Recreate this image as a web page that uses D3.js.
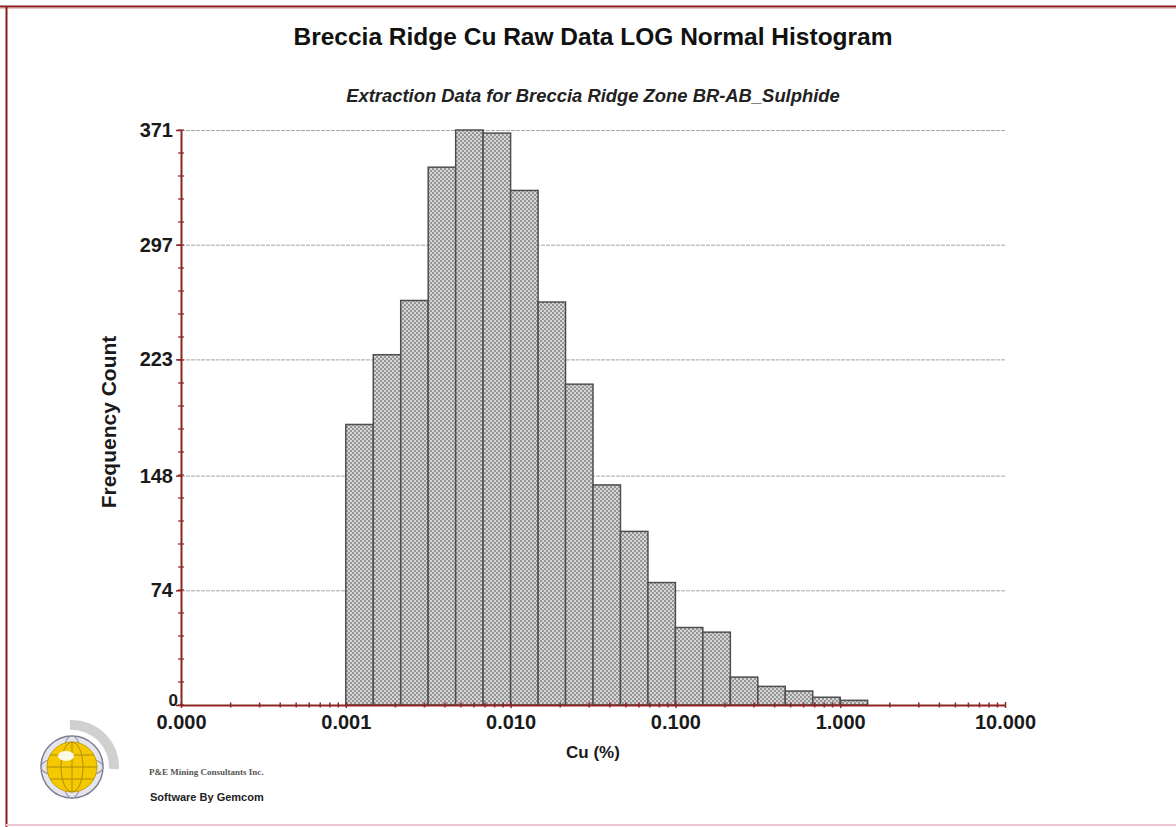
<!DOCTYPE html>
<html>
<head>
<meta charset="utf-8">
<script src="https://cdn.jsdelivr.net/npm/d3@7/dist/d3.min.js"></script>
<style>
  html, body { margin: 0; padding: 0; background: #ffffff; }
  svg { display: block; font-family: "Liberation Sans", Arial, Helvetica, sans-serif; }
</style>
</head>
<body>
<svg id="chart" width="1176" height="827"></svg>
<script>
// Histogram bins on a log Cu (%) axis: lower/upper edges, six bins per decade
const binEdges = [0.001000, 0.001468, 0.002154, 0.003162, 0.004642, 0.006813,
                  0.010000, 0.014678, 0.021544, 0.031623, 0.046416, 0.068129,
                  0.100000, 0.146780, 0.215443, 0.316228, 0.464159, 0.681292,
                  1.000000, 1.467799];
// Frequency count in each bin
const counts = [181, 226, 261, 347, 371, 369, 332, 260, 207, 142,
                112, 79, 50, 47, 18, 12, 9, 5, 3];

// Axis tick values and their printed labels
const xTickValues = [0.0001, 0.001, 0.01, 0.1, 1, 10];
const xTickLabels = ["0.000", "0.001", "0.010", "0.100", "1.000", "10.000"];
const yTickValues = [0, 74, 148, 223, 297, 371];
const yMax = 371;

const titleText = "Breccia Ridge Cu Raw Data LOG Normal Histogram";
const subtitleText = "Extraction Data for Breccia Ridge Zone BR-AB_Sulphide";
const xLabelText = "Cu (%)";
const yLabelText = "Frequency Count";
const companyText = "P&E Mining Consultants Inc.";
const softwareText = "Software By Gemcom";

const W = 1176, H = 827;
const plot = { left: 181, right: 1005, top: 130, bottom: 705 };
const axisColor = "#8e2424";

const svg = d3.select("#chart");

// page frame
svg.append("rect").attr("width", W).attr("height", H).attr("fill", "#ffffff");
svg.append("line").attr("x1", 0).attr("x2", W).attr("y1", 6.5).attr("y2", 6.5)
  .attr("stroke", "#8b1c1c").attr("stroke-width", 2);
svg.append("line").attr("x1", 0).attr("x2", W).attr("y1", 8.5).attr("y2", 8.5)
  .attr("stroke", "#e9c3c3").attr("stroke-width", 1);
svg.append("line").attr("x1", 6.5).attr("x2", 6.5).attr("y1", 6).attr("y2", H)
  .attr("stroke", "#8b1c1c").attr("stroke-width", 2);
svg.append("line").attr("x1", 6).attr("x2", W).attr("y1", 825).attr("y2", 825)
  .attr("stroke", "#efc6d0").attr("stroke-width", 2);

// bar fill texture
const defs = svg.append("defs");
const pat = defs.append("pattern").attr("id", "checker")
  .attr("width", 4).attr("height", 4).attr("patternUnits", "userSpaceOnUse");
pat.append("rect").attr("width", 4).attr("height", 4).attr("fill", "#d6d6d6");
pat.append("rect").attr("width", 2).attr("height", 2).attr("fill", "#969696");
pat.append("rect").attr("x", 2).attr("y", 2).attr("width", 2).attr("height", 2).attr("fill", "#969696");

const x = d3.scaleLog().domain([0.0001, 10]).range([plot.left, plot.right]);
const y = d3.scaleLinear().domain([0, yMax]).range([plot.bottom, plot.top]);

// titles
svg.append("text").attr("x", 593).attr("y", 45).attr("text-anchor", "middle")
  .attr("font-size", 24.5).attr("font-weight", "bold").attr("fill", "#111")
  .text(titleText);
svg.append("text").attr("x", 593).attr("y", 102).attr("text-anchor", "middle")
  .attr("font-size", 18.4).attr("font-weight", "bold").attr("font-style", "italic")
  .attr("fill", "#222").text(subtitleText);

// horizontal grid lines
svg.append("g").selectAll("line").data(yTickValues.filter(d => d > 0)).join("line")
  .attr("x1", plot.left).attr("x2", plot.right)
  .attr("y1", d => y(d) + 0.5).attr("y2", d => y(d) + 0.5)
  .attr("stroke", "#a6a6a6").attr("stroke-width", 1)
  .attr("stroke-dasharray", "4,1");

// bars
const bins = counts.map((c, i) => ({ x0: binEdges[i], x1: binEdges[i + 1], count: c }));
svg.append("g").selectAll("rect").data(bins).join("rect")
  .attr("x", d => x(d.x0))
  .attr("y", d => y(d.count))
  .attr("width", d => x(d.x1) - x(d.x0))
  .attr("height", d => y(0) - y(d.count))
  .attr("fill", "url(#checker)")
  .attr("stroke", "#4e4e4e").attr("stroke-width", 1.5);

// y axis
const yAxis = d3.axisLeft(y).tickValues(yTickValues).tickFormat(d3.format("d"))
  .tickSizeInner(5).tickSizeOuter(0).tickPadding(3);
const gy = svg.append("g").attr("transform", `translate(${plot.left},0)`).call(yAxis);
gy.select(".domain").attr("stroke", axisColor).attr("stroke-width", 2);
gy.selectAll(".tick line").attr("stroke", axisColor).attr("stroke-width", 1.5);
gy.selectAll(".tick text").attr("font-size", 20).attr("font-weight", "bold")
  .attr("fill", "#1a1a1a").attr("font-family", "Liberation Sans, Arial, sans-serif");
// the zero label sits just above the x-axis labels
gy.selectAll(".tick").filter(d => d === 0).select("text")
  .attr("font-size", 17).attr("x", -3).attr("dy", "0").attr("y", 0);

// y minor ticks, five per labelled interval
const yMinor = d3.range(0, 26).map(k => yMax * k / 25);
svg.append("g").selectAll("line").data(yMinor).join("line")
  .attr("x1", plot.left - 3).attr("x2", plot.left + 3)
  .attr("y1", d => y(d)).attr("y2", d => y(d))
  .attr("stroke", axisColor).attr("stroke-width", 1.2);

// x axis
const xAxis = d3.axisBottom(x).tickValues(xTickValues)
  .tickFormat((d, i) => xTickLabels[i]).tickSizeInner(3).tickSizeOuter(0).tickPadding(7);
const gx = svg.append("g").attr("transform", `translate(0,${plot.bottom})`).call(xAxis);
gx.select(".domain").attr("stroke", axisColor).attr("stroke-width", 2);
gx.selectAll(".tick line").attr("stroke", axisColor).attr("stroke-width", 1.5).attr("y1", -3);
gx.selectAll(".tick text").attr("font-size", 20).attr("font-weight", "bold")
  .attr("fill", "#1a1a1a").attr("font-family", "Liberation Sans, Arial, sans-serif");

// x minor ticks at 2..9 within each decade
const xMinor = [];
[0.0001, 0.001, 0.01, 0.1, 1].forEach(dec => {
  for (let m = 2; m <= 9; m++) xMinor.push(m * dec);
});
svg.append("g").selectAll("line").data(xMinor).join("line")
  .attr("x1", d => x(d)).attr("x2", d => x(d))
  .attr("y1", plot.bottom - 2.5).attr("y2", plot.bottom + 2.5)
  .attr("stroke", axisColor).attr("stroke-width", 1.5);

// axis titles
svg.append("text").attr("x", 593).attr("y", 758).attr("text-anchor", "middle")
  .attr("font-size", 17).attr("font-weight", "bold").attr("fill", "#1a1a1a")
  .text(xLabelText);
svg.append("text")
  .attr("transform", `translate(116,422) rotate(-90)`)
  .attr("text-anchor", "middle")
  .attr("font-size", 21).attr("font-weight", "bold").attr("fill", "#1a1a1a")
  .text(yLabelText);

// company logo: globe with a grey swoosh
const logo = svg.append("g").attr("transform", "translate(72,767)");
logo.append("path")
  .attr("d", d3.arc().innerRadius(37).outerRadius(47).startAngle(-0.05).endAngle(1.62)())
  .attr("fill", "#d0d0d0");
logo.append("circle").attr("r", 31).attr("fill", "#e4e4ec").attr("stroke", "#7d7f92").attr("stroke-width", 1.5);
logo.append("ellipse").attr("rx", 31).attr("ry", 11).attr("fill", "none").attr("stroke", "#9496a8").attr("stroke-width", 1.2);
logo.append("ellipse").attr("rx", 11).attr("ry", 31).attr("fill", "none").attr("stroke", "#9496a8").attr("stroke-width", 1.2);
logo.append("circle").attr("r", 25).attr("fill", "#f4c900").attr("stroke", "#c9a000").attr("stroke-width", 1);
logo.append("ellipse").attr("rx", 11).attr("ry", 25).attr("fill", "none").attr("stroke", "#b08c10").attr("stroke-width", 1);
logo.append("line").attr("x1", 0).attr("x2", 0).attr("y1", -25).attr("y2", 25).attr("stroke", "#b08c10").attr("stroke-width", 1);
[-12, 0, 12].forEach(dy => {
  const hw = Math.sqrt(25 * 25 - dy * dy);
  logo.append("line").attr("x1", -hw).attr("x2", hw).attr("y1", dy).attr("y2", dy)
    .attr("stroke", "#b08c10").attr("stroke-width", 1);
});
logo.append("ellipse").attr("cx", -6).attr("cy", -11).attr("rx", 8).attr("ry", 5)
  .attr("fill", "#ffffff").attr("opacity", 0.9);

svg.append("text").attr("x", 149).attr("y", 775)
  .attr("font-size", 9).attr("font-weight", "bold").attr("fill", "#555")
  .attr("font-family", "Liberation Serif, Times New Roman, serif")
  .text(companyText);
svg.append("text").attr("x", 150).attr("y", 801)
  .attr("font-size", 11).attr("font-weight", "bold").attr("fill", "#222")
  .text(softwareText);
</script>
</body>
</html>
